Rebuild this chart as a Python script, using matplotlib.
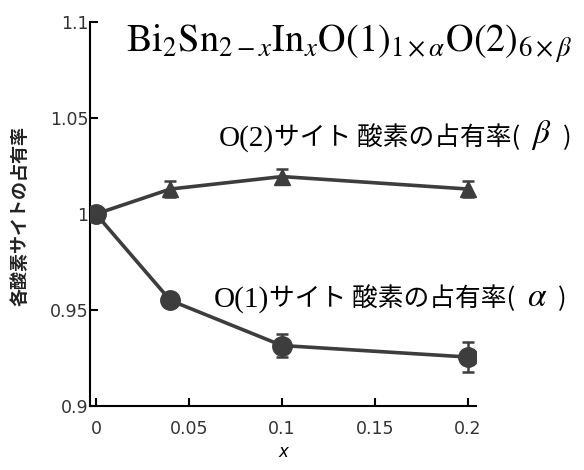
import matplotlib
matplotlib.use('Agg')
import matplotlib.pyplot as plt

# --- data -------------------------------------------------------------
x_vals = [0, 0.04, 0.1, 0.2]
beta_o2 = [1.0, 1.013, 1.0195, 1.013]      # O(2) site occupancy
beta_err = [0.002, 0.004, 0.004, 0.004]
alpha_o1 = [1.0, 0.955, 0.9315, 0.9255]    # O(1) site occupancy
alpha_err = [0.002, 0.002, 0.006, 0.008]

x_ticks = [0, 0.05, 0.1, 0.15, 0.2]
x_tick_labels = ['0', '0.05', '0.1', '0.15', '0.2']
y_ticks = [0.9, 0.95, 1.0, 1.05, 1.1]
y_tick_labels = ['0.9', '0.95', '1', '1.05', '1.1']

title = r'$\mathrm{Bi}_2\mathrm{Sn}_{2-x}\mathrm{In}_x\mathrm{O(1)}_{1\times\alpha}\mathrm{O(2)}_{6\times\beta}$'
ylabel = '各酸素サイトの占有率'
site_text = 'サイト 酸素の占有率('

plt.rcParams['mathtext.fontset'] = 'stix'
plt.rcParams['font.family'] = ['DejaVu Sans']

fig = plt.figure(figsize=(5.84, 4.70), dpi=100)
ax = fig.add_axes([90 / 584, 64 / 470, 386 / 584, 384 / 470])

line_col = '#3d3d3d'
ax.errorbar(x_vals, beta_o2, yerr=beta_err, color=line_col, lw=2.6,
            marker='^', ms=12, capsize=4, elinewidth=1.8, capthick=1.8, zorder=3)
ax.errorbar(x_vals, alpha_o1, yerr=alpha_err, color=line_col, lw=2.6,
            marker='o', ms=14, capsize=4, elinewidth=1.8, capthick=1.8, zorder=3)

ax.set_xlim(-0.0032, 0.2043)
ax.set_ylim(0.9, 1.1)
ax.set_xticks(x_ticks)
ax.set_xticklabels(x_tick_labels)
ax.set_yticks(y_ticks)
ax.set_yticklabels(y_tick_labels)
ax.spines['top'].set_visible(False)
ax.spines['right'].set_visible(False)
ax.spines['left'].set_linewidth(1.5)
ax.spines['bottom'].set_linewidth(1.5)
ax.tick_params(axis='x', direction='in', length=6, width=1.5, pad=10,
               labelsize=12.5, labelcolor='#333333')
ax.tick_params(axis='y', direction='in', length=6, width=1.5, pad=1,
               labelsize=12.5, labelcolor='#333333')

ax.set_xlabel('x', fontsize=12, style='italic', labelpad=4)
fig.text(20 / 584, 0.54, ylabel, rotation=90, ha='center', va='center',
         family='Noto Sans CJK JP', fontsize=13, weight='bold', color='#222222')

fig.text(349 / 584, 1 - 52 / 470, title, ha='center', va='baseline', fontsize=27.5)


def site_label(x_px, base_px, site, greek):
    t1 = fig.text(x_px / 584, 1 - base_px / 470, site, family='Liberation Serif',
                  fontsize=21, va='baseline')
    t2 = ax.annotate(site_text, xy=(1, 0), xycoords=t1, va='bottom',
                     family='Noto Sans CJK JP', fontsize=18.5, xytext=(0, 1),
                     textcoords='offset points')
    t3 = ax.annotate(greek, xy=(1, 0), xycoords=t2, va='bottom', fontsize=24,
                     xytext=(8, -1), textcoords='offset points')
    ax.annotate(')', xy=(1, 0), xycoords=t3, va='bottom',
                family='Noto Sans CJK JP', fontsize=18.5, xytext=(8, 1),
                textcoords='offset points')


site_label(219, 146, 'O(2)', r'$\beta$')
site_label(214, 307, 'O(1)', r'$\alpha$')

fig.savefig('out.png', dpi=100)
